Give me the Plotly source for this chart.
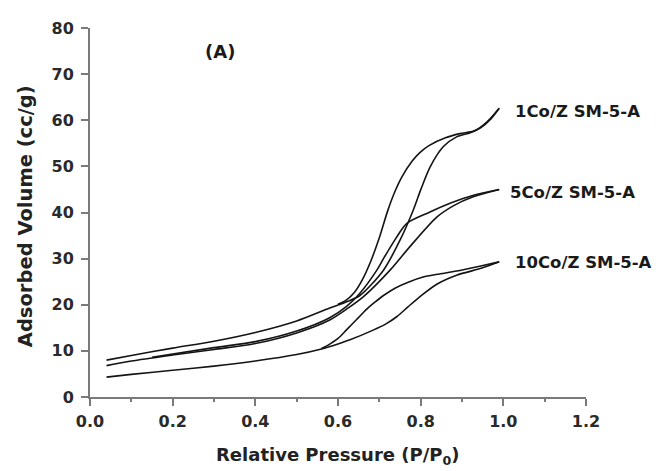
import plotly.graph_objects as go

# ---- data ----
co1_ads_x = [0.04, 0.10, 0.20, 0.30, 0.40, 0.50, 0.58, 0.62, 0.653, 0.71, 0.75, 0.782, 0.80, 0.823, 0.855, 0.887, 0.92, 0.944, 0.97, 0.99]
co1_ads_y = [8.0, 9.0, 10.6, 12.1, 14.0, 16.5, 19.3, 20.6, 22.0, 27.5, 34.0, 40.5, 44.9, 49.9, 54.3, 56.4, 57.3, 58.3, 60.3, 62.6]
co1_des_x = [0.99, 0.96, 0.93, 0.895, 0.86, 0.82, 0.798, 0.78, 0.755, 0.738, 0.72, 0.70, 0.68, 0.66, 0.64, 0.62, 0.60]
co1_des_y = [62.6, 59.6, 57.7, 57.1, 56.2, 54.5, 53.0, 51.2, 47.8, 44.6, 40.3, 34.5, 29.6, 25.6, 22.7, 21.0, 20.1]

co5_ads_x = [0.04, 0.10, 0.20, 0.30, 0.40, 0.50, 0.58, 0.62, 0.661, 0.726, 0.774, 0.839, 0.88, 0.927, 0.99]
co5_ads_y = [6.8, 7.8, 9.1, 10.3, 11.6, 13.9, 16.7, 19.0, 21.7, 27.5, 32.6, 39.0, 41.5, 43.4, 45.0]
co5_des_x = [0.99, 0.93, 0.871, 0.82, 0.766, 0.740, 0.71, 0.694, 0.653, 0.62, 0.58, 0.50, 0.40, 0.30, 0.15]
co5_des_y = [45.0, 43.8, 42.0, 40.0, 37.6, 34.4, 30.0, 27.5, 22.5, 19.6, 17.2, 14.3, 12.0, 10.7, 8.6]

co10_ads_x = [0.04, 0.10, 0.20, 0.30, 0.40, 0.50, 0.56, 0.60, 0.629, 0.685, 0.715, 0.742, 0.77, 0.806, 0.84, 0.887, 0.95, 0.99]
co10_ads_y = [4.3, 4.9, 5.8, 6.7, 7.8, 9.2, 10.4, 11.5, 12.4, 14.5, 15.8, 17.4, 19.6, 22.3, 24.5, 26.4, 28.0, 29.3]
co10_des_x = [0.99, 0.94, 0.887, 0.84, 0.806, 0.77, 0.74, 0.71, 0.69, 0.669, 0.645, 0.621, 0.60, 0.575, 0.56]
co10_des_y = [29.3, 28.3, 27.3, 26.6, 26.0, 24.9, 23.7, 22.0, 20.6, 19.0, 16.8, 14.6, 12.7, 11.2, 10.5]

series_labels = ["1Co/Z SM-5-A", "5Co/Z SM-5-A", "10Co/Z SM-5-A"]
label_x = [1.023, 1.012, 1.023]
label_y = [61.8, 44.4, 29.2]

x_ticks = [0.0, 0.2, 0.4, 0.6, 0.8, 1.0, 1.2]
x_tick_text = ["0.0", "0.2", "0.4", "0.6", "0.8", "1.0", "1.2"]
y_ticks = [0, 10, 20, 30, 40, 50, 60, 70, 80]

# ---- figure ----
FONT = "DejaVu Sans"
fig = go.Figure()
line_style = dict(color="#141414", width=1.6, shape="spline", smoothing=0.8)
for xs, ys in [(co1_ads_x, co1_ads_y), (co1_des_x, co1_des_y),
               (co5_ads_x, co5_ads_y), (co5_des_x, co5_des_y),
               (co10_ads_x, co10_ads_y), (co10_des_x, co10_des_y)]:
    fig.add_trace(go.Scatter(x=xs, y=ys, mode="lines", line=line_style,
                             showlegend=False, hoverinfo="skip"))

for txt, lx, ly in zip(series_labels, label_x, label_y):
    fig.add_annotation(x=lx, y=ly, xref="x", yref="y", text="<b>" + txt + "</b>",
                       showarrow=False, xanchor="left", yanchor="middle",
                       font=dict(family=FONT, size=16.5, color="#1a1a1a"))

fig.add_annotation(x=0.315, y=74.8, xref="x", yref="y", text="<b>(A)</b>",
                   showarrow=False, xanchor="center", yanchor="middle",
                   font=dict(family=FONT, size=18, color="#1a1a1a"))

fig.add_annotation(x=0.498, y=-0.16, xref="paper", yref="paper",
                   text="<b>Relative Pressure (P/P<sub>0</sub>)</b>",
                   showarrow=False, xanchor="center", yanchor="middle",
                   font=dict(family=FONT, size=18, color="#222222"))
fig.add_annotation(x=-0.131, y=0.49, xref="paper", yref="paper",
                   text="<b>Adsorbed Volume (cc/g)</b>", textangle=-90,
                   showarrow=False, xanchor="center", yanchor="middle",
                   font=dict(family=FONT, size=19.5, color="#222222"))

axis_common = dict(showline=True, linecolor="#7a7a7a", linewidth=2,
                   showgrid=False, zeroline=False, ticks="outside",
                   ticklen=7, tickwidth=2, tickcolor="#7a7a7a",
                   tickfont=dict(family=FONT, size=16, color="#2a2a2a", weight="bold"))

fig.update_xaxes(range=[0, 1.2], tickvals=x_ticks, ticktext=x_tick_text,
                 minor=dict(ticks="outside", ticklen=3, tickwidth=2,
                            tickcolor="#7a7a7a", dtick=0.1, tick0=0),
                 ticklabelstandoff=2, **axis_common)
fig.update_yaxes(range=[0, 80], tickvals=y_ticks, ticklabelstandoff=4, **axis_common)

fig.update_layout(width=656, height=471, autosize=False,
                  margin=dict(l=90, r=70, t=28, b=74),
                  plot_bgcolor="white", paper_bgcolor="white",
                  font=dict(family=FONT))

fig.write_html("out.html")
